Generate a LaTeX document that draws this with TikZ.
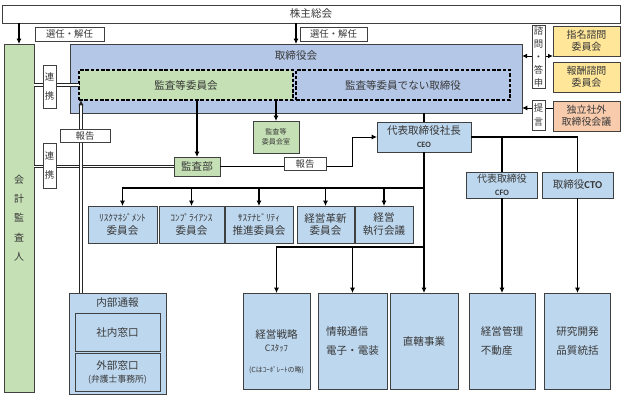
\documentclass[tikz,border=0pt]{standalone}
\usepackage{fontspec}
\setmainfont{Noto Sans CJK JP}
\newfontfamily\latinfont{Carlito}
\usetikzlibrary{arrows.meta, calc}
\definecolor{boardblue}{RGB}{180,199,231}
\definecolor{unitblue}{RGB}{189,215,238}
\definecolor{auditgreen}{RGB}{197,224,180}
\definecolor{advyellow}{RGB}{255,230,153}
\definecolor{indeporange}{RGB}{248,203,173}
\definecolor{edgegray}{RGB}{64,64,64}
\definecolor{textgray}{RGB}{56,56,56}
\newcommand{\pxu}{0.03cm}
\newcommand{\kanafont}{\fontsize{8}{10}\selectfont}
\newcommand{\cxofont}{\latinfont\bfseries\fontsize{7}{8}\selectfont}

\begin{document}
\begin{tikzpicture}[
    x=0.03cm, y=-0.03cm,
    font=\fontsize{9}{11}\selectfont, text=textgray,
    sz/.style 2 args={minimum width=#1*\pxu, minimum height=#2*\pxu},
    box/.style={rectangle, draw=edgegray, line width=0.6pt, inner sep=1pt,
                outer sep=0pt, align=center},
    tagbox/.style={box, fill=white, font=\fontsize{8}{10}\selectfont},
    vtag/.style={tagbox, font=\fontsize{8}{16}\selectfont},
    boardbox/.style={box, fill=boardblue},
    greenbox/.style={box, fill=auditgreen},
    unitbox/.style={box, fill=unitblue},
    advbox/.style={box, fill=advyellow, font=\fontsize{8.5}{10.5}\selectfont},
    indbox/.style={box, fill=indeporange, font=\fontsize{8.5}{10.5}\selectfont},
    dashbox/.style={rectangle, draw=black, line width=1pt, dash pattern=on 3pt off 1.5pt,
                    inner sep=0pt, outer sep=0pt, align=center},
    lbl/.style={inner sep=0pt, align=center},
    wire/.style={line width=1.2pt},
    arr/.style={-{Latex[length=1.6mm, width=1.5mm]}, line width=1.2pt},
    thinarr/.style={-{Latex[length=1.6mm, width=1.5mm]}, line width=0.8pt},
    dblarr/.style={{Latex[length=1.5mm, width=1.4mm]}-{Latex[length=1.5mm, width=1.4mm]}, line width=0.8pt},
    dbl/.style={draw=black!85, double=white, double distance=1.1pt, line width=0.8pt}
]
\useasboundingbox (0,0) rectangle (624,397);

% Top: shareholders and auditor
\node[box, fill=white, sz={618}{18}] (share) at (311,14) {株主総会};
\node[greenbox, sz={30}{348}, font=\fontsize{8.5}{16.5}\selectfont] (auditor) at (19,218) {会\\計\\監\\査\\人};

% Board of directors
\node[boardbox, sz={452}{69}] (board) at (296,78.5) {};
\node[lbl] (boardlbl) at (296,56) {取締役会};
\node[dashbox, fill=auditgreen, sz={214}{30}] (acom) at (186,85) {監査等委員会};
\node[dashbox, fill=boardblue, sz={214}{30}] (ndir) at (403,85) {監査等委員でない取締役};

% Advisory committees (right)
\node[advbox, sz={67}{30}] (nomi) at (586.5,41) {指名諮問\\委員会};
\node[advbox, sz={67}{30}] (remu) at (586.5,77) {報酬諮問\\委員会};
\node[indbox, sz={67}{30}] (indep) at (586.5,116) {独立社外\\取締役会議};

% Audit row
\node[greenbox, sz={46}{19}] (audit) at (197,166.5) {監査部};
\node[greenbox, sz={46}{32}, font=\fontsize{6}{9}\selectfont] (acroom) at (276,137) {監査等\\委員会室};
\node[unitbox, sz={94}{30}] (ceo) at (424,137) {代表取締役社長\\{\cxofont CEO}};
\node[unitbox, sz={71}{26}, font=\fontsize{8.5}{11}\selectfont] (cfo) at (502,185) {代表取締役\\{\cxofont CFO}};
\node[unitbox, sz={71}{26}] (cto) at (577.5,185) {取締役{\latinfont\bfseries CTO}};

% Committees
\node[unitbox, sz={69}{37}] (risk) at (122.5,224.5) {{\kanafont ﾘｽｸﾏﾈｼﾞﾒﾝﾄ}\\委員会};
\node[unitbox, sz={65}{37}] (compl) at (191.5,224.5) {{\kanafont ｺﾝﾌﾟﾗｲｱﾝｽ}\\委員会};
\node[unitbox, sz={68}{37}] (sust) at (259,224.5) {{\kanafont ｻｽﾃﾅﾋﾞﾘﾃｨ}\\推進委員会};
\node[unitbox, sz={57}{37}] (innov) at (325.5,224.5) {経営革新\\委員会};
\node[unitbox, sz={58}{37}] (exec) at (384,224.5) {経営\\執行会議};

% Business units (bottom)
\node[unitbox, sz={67}{96}] (strat) at (276.5,341) {経営戦略\\{\fontsize{7.5}{8}\selectfont Cｽﾀｯﾌ}};
\node[lbl, font=\fontsize{6}{7}\selectfont] (stratnote) at (276.5,370) {(Cはｺｰﾎﾟﾚｰﾄの略)};
\node[unitbox, sz={69}{96}, align=left] (info) at (352.5,341) {情報通信\\[5pt]電子・電装};
\node[unitbox, sz={68}{96}] (direct) at (424,341) {直轄事業};
\node[unitbox, sz={66}{96}, align=left] (admin) at (502,341) {経営管理\\[5pt]不動産};
\node[unitbox, sz={66}{96}] (rnd) at (577.5,341) {研究開発\\[5pt]品質統括};

% Internal reporting
\node[unitbox, sz={97}{101}] (whistle) at (117.5,343.5) {};
\node[lbl] (whistlelbl) at (117.5,302) {内部通報};
\node[unitbox, sz={85}{38}] (inner) at (117.5,332) {社内窓口};
\node[unitbox, sz={85}{38}] (outer) at (117.5,372) {外部窓口\\{\fontsize{7.5}{9}\selectfont (弁護士事務所)}};

% Connectors (before the tag boxes, which sit on top of them)
\draw[arr] (share.south -| auditor.north) -- (auditor.north);
\draw[arr] (share.south -| board.north) -- (board.north);
\draw[dbl] (auditor.east |- acom.west) -- (acom.west);
\draw[dbl] (auditor.east |- audit.west) -- (audit.west);
\coordinate (wup) at ($(whistle.north west)+(12,0)$);
\draw[dbl, -{Latex[length=1.6mm, width=1.6mm]}] (wup) -- (wup |- acom.south);
\draw[arr] (audit.north |- acom.south) -- (audit.north);
\draw[arr] (acroom.north |- acom.south) -- (acroom.north);
\coordinate (rptbend) at ($(audit.east)+(132,0)$);
\draw[thinarr] (audit.east) -- (rptbend) |- (ceo.west);

% CEO lines and buses
\draw[wire] (board.south -| ceo.north) -- (ceo.north);
\draw[arr] (ceo.south) -- (direct.north);
\coordinate (cbus) at (ceo.south |- 0,188);
\foreach \comm in {risk,compl,sust,innov,exec}
  \draw[arr] (cbus) -| (\comm.north);
\coordinate (lbus) at (ceo.south |- 0,247);
\foreach \unit in {strat,info}
  \draw[arr] (lbus) -| (\unit.north);
\draw[wire] (ceo.east) -| (cto.north);
\draw[wire] (cfo.north |- ceo.east) -- (cfo.north);
\draw[arr] (cfo.south) -- (admin.north);
\draw[arr] (cto.south) -- (rnd.north);

% Advisory links
\draw[dblarr] (board.east |- nomi.south) -- (nomi.south west);
\draw[thinarr] ([yshift=0.24cm]indep.west) -- ([yshift=0.24cm]indep.west -| board.east);

% Tag boxes
\node[tagbox, sz={69}{14}] (sennin1) at (69.5,34) {選任・解任};
\node[tagbox, sz={67}{14}] (sennin2) at (333.5,34) {選任・解任};
\node[vtag, sz={13}{43}] (renkei1) at (49.5,86.5) {連\\携};
\node[vtag, sz={13}{45}] (renkei2) at (49.5,165.5) {連\\携};
\node[tagbox, sz={50}{13}] (report1) at (85,135.5) {報告};
\node[tagbox, sz={42}{13}] (report2) at (305,163.5) {報告};
\node[vtag, sz={13}{62}, font=\fontsize{8}{11}\selectfont] (shimon) at (538.5,57) {諮\\問\\・\\答\\申};
\node[vtag, sz={13}{30}, font=\fontsize{8}{12}\selectfont] (teigen) at (538.5,115) {提\\言};
\end{tikzpicture}
\end{document}
